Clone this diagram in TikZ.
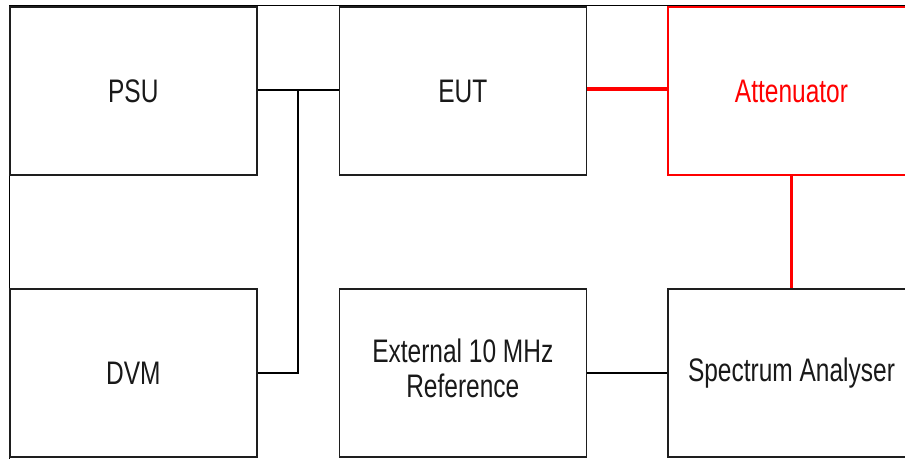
\documentclass[tikz,border=0pt]{standalone}
\usepackage{fontspec}
\setmainfont{Liberation Sans}
\usepackage{graphicx}
\definecolor{boxline}{RGB}{30,30,30}
\definecolor{attred}{RGB}{255,0,0}
\tikzset{
  blockbox/.style={draw=boxline, line width=1.6pt, minimum width=247pt, minimum height=168pt, inner sep=0pt, anchor=center,
    font=\fontsize{24.5}{26.8}\selectfont, text=black!90},
  redbox/.style={blockbox, draw=attred, line width=1.5pt, text=attred},
  wire/.style={draw=black, line width=1.6pt},
  redwire/.style={draw=attred, line width=3.6pt},
  framel/.style={draw=black, line width=1.2pt}
}
\newcommand{\stretchtxt}[1]{\scalebox{1}[1.33]{#1}}
\begin{document}
\begin{tikzpicture}[x=1pt,y=-1pt]
\useasboundingbox (0,0) rectangle (905,458);
\clip (0,0) rectangle (905,458);
\fill[white] (0,0) rectangle (905,458);
% outer frame
\draw[framel] (9.2,470) -- (9.2,5.6) -- (920,5.6);
% boxes
\node[blockbox] (psu) at (133.3,91) {\stretchtxt{PSU}};
\node[blockbox] (eut) at (462.8,91) {\stretchtxt{EUT}};
\node[redbox]   (att) at (791.5,91) {\stretchtxt{Attenuator}};
\node[blockbox] (dvm) at (133.3,373) {\stretchtxt{DVM}};
\node[blockbox] (ext) at (462.8,373) {\stretchtxt{\begin{tabular}{@{}c@{}}External 10 MHz\\[-0.6pt]Reference\end{tabular}}};
\node[blockbox] (spa) at (791.5,373) {\stretchtxt{Spectrum Analyser}};
% connectors
\coordinate (jn) at (298,90);
\draw[wire] (psu.east |- jn) -- (jn) -- (eut.west |- jn);
\draw[wire] (jn) -- (jn |- dvm.east) -- (dvm.east);
\draw[wire] (ext.east) -- (spa.west);
\draw[redwire] (eut.east |- 0,89) -- (att.west |- 0,89);
\draw[redwire] (att.south) -- (spa.north);
\end{tikzpicture}
\end{document}
